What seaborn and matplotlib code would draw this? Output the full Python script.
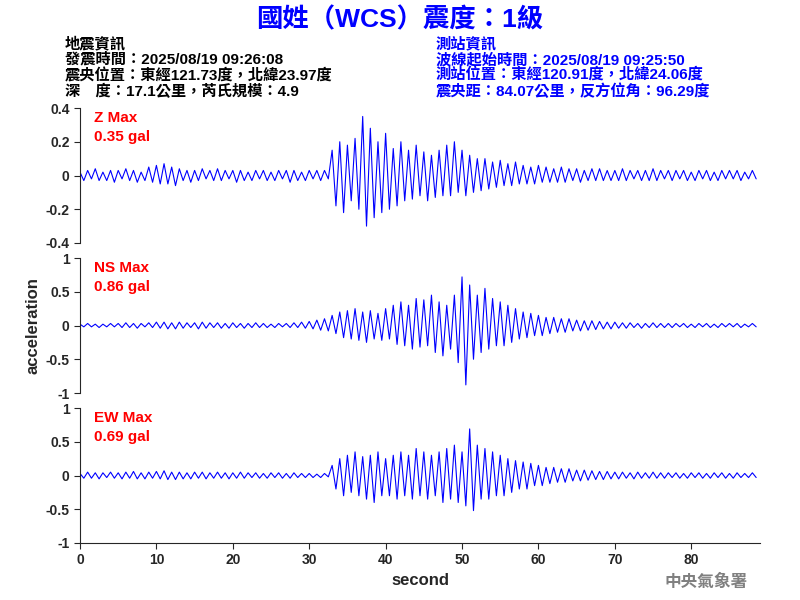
import numpy as np
import matplotlib
matplotlib.use("Agg")
import matplotlib.pyplot as plt
import seaborn as sns

sns.set_style("white")
plt.rcParams['font.family'] = ['Liberation Sans', 'Noto Sans CJK TC', 'DejaVu Sans']

# peak samples every 0.5 s
z_vals = [0.02,-0.03,0.03,-0.02,0.04,-0.03,0.02,-0.03,0.03,-0.04,
0.03,-0.02,0.04,-0.03,0.03,-0.04,0.02,-0.03,0.05,-0.04,
0.06,-0.05,0.07,-0.05,0.05,-0.06,0.04,-0.03,0.03,-0.04,
0.03,-0.03,0.04,-0.02,0.03,-0.03,0.04,-0.03,0.03,-0.02,
0.03,-0.04,0.03,-0.03,0.02,-0.03,0.03,-0.02,0.03,-0.03,
0.02,-0.03,0.03,-0.02,0.03,-0.04,0.03,-0.03,0.02,-0.03,
0.03,-0.02,0.03,-0.03,0.03,-0.02,
0.15,-0.18,0.2,-0.22,0.18,-0.15,0.22,-0.2,0.35,-0.3,
0.28,-0.25,0.2,-0.22,0.25,-0.2,0.16,-0.18,0.2,-0.15,
0.15,-0.14,0.18,-0.12,0.14,-0.15,0.12,-0.13,0.15,-0.12,
0.18,-0.12,0.2,-0.1,0.15,-0.12,0.12,-0.1,0.1,-0.09,
0.1,-0.08,0.08,-0.07,0.09,-0.06,0.07,-0.06,0.08,-0.05,
0.06,-0.05,0.05,-0.05,0.06,-0.04,0.05,-0.04,0.04,-0.04,
0.05,-0.04,0.04,-0.03,0.04,-0.04,0.03,-0.03,0.04,-0.03,
0.04,-0.03,0.03,-0.03,0.03,-0.03,0.04,-0.03,0.03,-0.02,
0.03,-0.03,0.03,-0.03,0.04,-0.03,0.03,-0.02,0.03,-0.03,
0.03,-0.02,0.03,-0.03,0.02,-0.03,0.03,-0.02,0.03,-0.03,
0.02,-0.03,0.03,-0.02,0.03,-0.02,0.03,-0.03,0.02,-0.02,0.03,-0.02]

ns_vals = [0.02,-0.02,0.03,-0.02,0.02,-0.03,0.02,-0.02,0.03,-0.02,
0.03,-0.03,0.04,-0.03,0.03,-0.04,0.03,-0.02,0.04,-0.03,
0.05,-0.04,0.05,-0.05,0.04,-0.05,0.05,-0.04,0.04,-0.03,
0.04,-0.05,0.05,-0.04,0.04,-0.03,0.04,-0.04,0.03,-0.04,
0.04,-0.03,0.03,-0.04,0.03,-0.03,0.04,-0.03,0.03,-0.03,
0.02,-0.03,0.03,-0.02,0.03,-0.03,0.04,-0.03,0.05,-0.04,
0.06,-0.05,0.08,-0.07,0.1,-0.08,
0.15,-0.12,0.2,-0.18,0.22,-0.2,0.25,-0.22,0.2,-0.25,
0.22,-0.2,0.18,-0.22,0.25,-0.2,0.3,-0.28,0.35,-0.3,
0.3,-0.35,0.4,-0.32,0.38,-0.3,0.45,-0.4,0.35,-0.45,
0.3,-0.35,0.45,-0.55,0.72,-0.88,0.6,-0.5,0.45,-0.4,
0.55,-0.35,0.4,-0.3,0.35,-0.3,0.3,-0.25,0.25,-0.2,
0.2,-0.18,0.18,-0.15,0.15,-0.15,0.12,-0.12,0.12,-0.1,
0.1,-0.1,0.1,-0.08,0.08,-0.08,0.07,-0.07,0.07,-0.06,
0.06,-0.05,0.05,-0.05,0.05,-0.04,0.04,-0.04,0.04,-0.03,
0.03,-0.04,0.03,-0.03,0.04,-0.03,0.03,-0.03,0.03,-0.03,
0.03,-0.02,0.03,-0.03,0.02,-0.03,0.03,-0.02,0.03,-0.03,
0.02,-0.03,0.03,-0.02,0.03,-0.02,0.03,-0.03,0.02,-0.02,0.03,-0.02]

ew_vals = [0.03,-0.04,0.05,-0.04,0.04,-0.05,0.04,-0.03,0.05,-0.04,
0.04,-0.05,0.05,-0.04,0.06,-0.05,0.04,-0.05,0.05,-0.04,
0.06,-0.05,0.07,-0.06,0.05,-0.06,0.05,-0.05,0.04,-0.05,
0.05,-0.04,0.05,-0.05,0.04,-0.04,0.05,-0.04,0.04,-0.05,
0.04,-0.04,0.05,-0.04,0.04,-0.03,0.04,-0.04,0.03,-0.04,
0.04,-0.03,0.04,-0.04,0.03,-0.04,0.04,-0.03,0.03,-0.03,
0.03,-0.03,0.02,-0.03,0.03,-0.02,
0.15,-0.2,0.25,-0.3,0.3,-0.25,0.35,-0.3,0.28,-0.35,
0.3,-0.4,0.35,-0.3,0.25,-0.3,0.3,-0.35,0.35,-0.3,
0.3,-0.35,0.4,-0.3,0.35,-0.35,0.3,-0.3,0.35,-0.4,
0.4,-0.35,0.45,-0.4,0.35,-0.45,0.69,-0.52,0.45,-0.35,
0.4,-0.35,0.35,-0.3,0.3,-0.3,0.25,-0.25,0.22,-0.2,
0.2,-0.2,0.18,-0.15,0.15,-0.15,0.12,-0.12,0.12,-0.1,
0.1,-0.1,0.1,-0.08,0.08,-0.08,0.08,-0.07,0.07,-0.06,
0.06,-0.06,0.06,-0.05,0.05,-0.05,0.05,-0.04,0.04,-0.05,
0.05,-0.04,0.04,-0.04,0.05,-0.04,0.04,-0.04,0.04,-0.03,
0.04,-0.04,0.03,-0.04,0.04,-0.03,0.04,-0.04,0.03,-0.04,
0.04,-0.03,0.04,-0.04,0.03,-0.04,0.04,-0.03,0.03,-0.03,0.04,-0.03]

dt = 0.5
channels = ["Z", "NS", "EW"]
max_labels = ["0.35 gal", "0.86 gal", "0.69 gal"]
series = [z_vals, ns_vals, ew_vals]
ylims = [(-0.4, 0.4), (-1, 1), (-1, 1)]
yticks = [[-0.4, -0.2, 0, 0.2, 0.4], [-1, -0.5, 0, 0.5, 1], [-1, -0.5, 0, 0.5, 1]]
yticklabels = [["-0.4", "-0.2", "0", "0.2", "0.4"], ["-1", "-0.5", "0", "0.5", "1"], ["-1", "-0.5", "0", "0.5", "1"]]

left_lines = ["地震資訊", "發震時間：2025/08/19 09:26:08", "震央位置：東經121.73度，北緯23.97度", "深　度：17.1公里，芮氏規模：4.9"]
right_lines = ["測站資訊", "波線起始時間：2025/08/19 09:25:50", "測站位置：東經120.91度，北緯24.06度", "震央距：84.07公里，反方位角：96.29度"]

fig = plt.figure(figsize=(8, 6), dpi=100)
bottoms = [0.595, 0.345, 0.095]
for i in range(3):
    ax = fig.add_axes([0.1, bottoms[i], 0.85, 0.225])
    t = np.arange(len(series[i])) * dt
    sns.lineplot(x=t, y=series[i], ax=ax, color="blue", linewidth=0.8)
    ax.set_xlim(0, 89)
    ax.set_ylim(*ylims[i])
    ax.set_yticks(yticks[i])
    ax.set_yticklabels(yticklabels[i], fontweight="bold", fontsize=10)
    for s in ["top", "right"]:
        ax.spines[s].set_visible(False)
    ax.tick_params(axis="y", length=4, left=True)
    ax.text(0.02, 0.98, f"{channels[i]} Max\n{max_labels[i]}", transform=ax.transAxes,
            color="red", fontsize=11, fontweight="bold", va="top", linespacing=1.5)
    if i < 2:
        ax.spines["bottom"].set_visible(False)
        ax.set_xticks([])
    else:
        ax.set_xticks([0, 10, 20, 30, 40, 50, 60, 70, 80])
        ax.set_xticklabels([str(v) for v in range(0, 90, 10)], fontweight="bold", fontsize=10)
        ax.tick_params(axis="x", length=4, bottom=True)
        ax.set_xlabel("second", fontsize=12, fontweight="bold")
    if i == 1:
        ax.set_ylabel("acceleration", fontsize=12, fontweight="bold")

fig.text(0.5, 0.968, "國姓（WCS）震度：1級", color="blue", fontsize=19, fontweight="bold",
         ha="center", va="center")
for k, (l, r) in enumerate(zip(left_lines, right_lines)):
    y = 0.927 - k * 0.0265
    fig.text(0.081, y, l, color="black", fontsize=11, fontweight="bold", va="center")
    fig.text(0.545, y, r, color="blue", fontsize=11, fontweight="bold", va="center")
fig.text(0.935, 0.03, "中央氣象署", color="gray", fontsize=12, fontweight="bold", ha="right", va="center")

fig.savefig("out.png", dpi=100)
